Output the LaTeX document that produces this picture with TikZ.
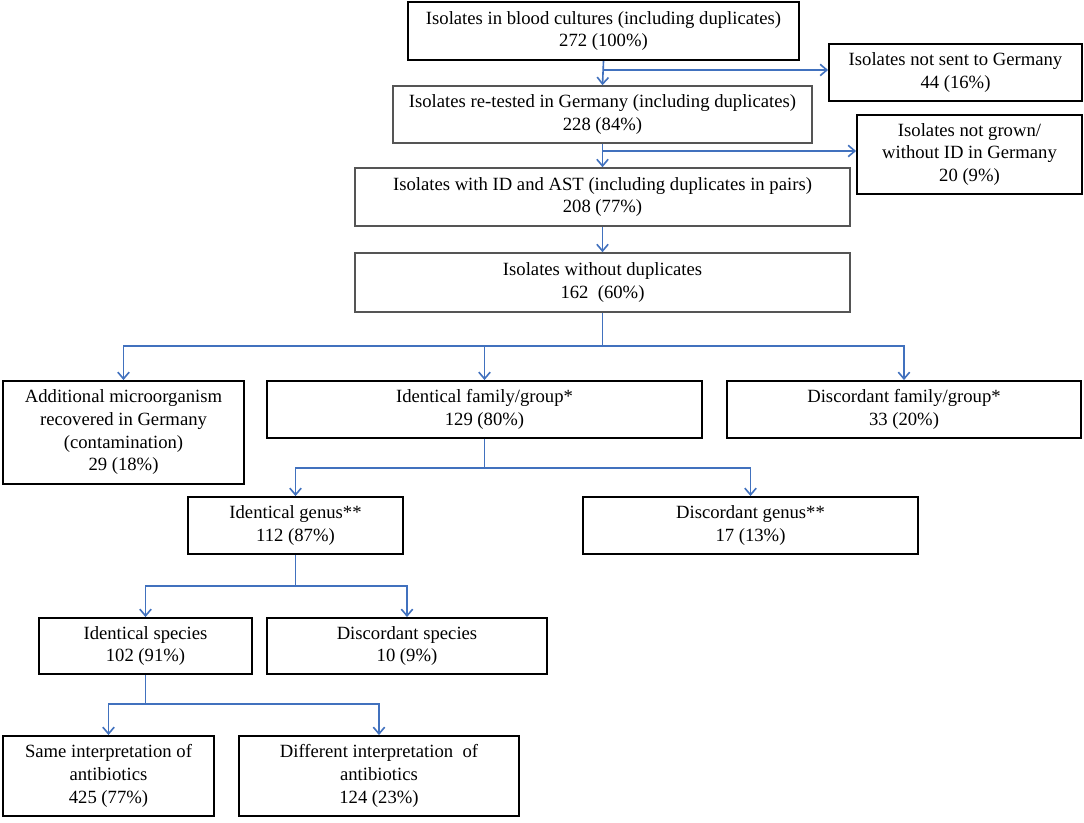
\documentclass[tikz,border=0pt]{standalone}
\usepackage{fontspec}
\setmainfont{Liberation Serif}
\usetikzlibrary{arrows.meta}
\definecolor{flowblue}{RGB}{65,113,190}
\definecolor{boxgray}{RGB}{85,85,85}
\begin{document}
\begin{tikzpicture}[x=0.75pt,y=-0.75pt,
  box/.style={draw=black,line width=1.4pt,fill=white,align=center,inner sep=0pt,
    font=\fontsize{14}{17}\selectfont},
  graybox/.style={box,draw=boxgray,line width=1.2pt},
  topbox/.style={box,line width=1.8pt},
  link/.style={draw=flowblue,line width=1.2pt},
  arr/.style={link,-{Straight Barb[length=5pt,width=8.5pt]}}]
\useasboundingbox (0,0) rectangle (1084,823);
\fill[white] (0,0) rectangle (1084,823);

\node[topbox,minimum width=293.25pt,minimum height=43.5pt] (top) at (603.5,31)
  {Isolates in blood cultures (including duplicates)\\272 (100\%)};
\node[box,minimum width=189.75pt,minimum height=42.75pt] (right1) at (955.5,72.5)
  {Isolates not sent to Germany\\44 (16\%)};
\node[graybox,minimum width=314.25pt,minimum height=42.75pt] (box2) at (602.5,114.5)
  {Isolates re-tested in Germany (including duplicates)\\228 (84\%)};
\node[box,minimum width=168.75pt,minimum height=59.25pt] (right2) at (969.5,154.5)
  {Isolates not grown/\\without ID in Germany\\20 (9\%)};
\node[graybox,minimum width=371.25pt,minimum height=43.5pt] (box3) at (602.5,197)
  {Isolates with ID and AST (including duplicates in pairs)\\208 (77\%)};
\node[graybox,minimum width=371.25pt,minimum height=44.25pt] (box4) at (602.5,282.5)
  {Isolates without duplicates\\162\ \ (60\%)};
\node[box,minimum width=180.75pt,minimum height=77.25pt] (left) at (123.5,432.5)
  {Additional microorganism\\recovered in Germany\\(contamination)\\29 (18\%)};
\node[box,minimum width=326.25pt,minimum height=42.75pt] (mid) at (484.5,409.5)
  {Identical family/group*\\129 (80\%)};
\node[box,minimum width=265.5pt,minimum height=42.75pt] (right) at (904,409.5)
  {Discordant family/group*\\33 (20\%)};
\node[box,minimum width=161.25pt,minimum height=42.75pt] (genus) at (295.5,525.5)
  {Identical genus**\\112 (87\%)};
\node[box,minimum width=251.25pt,minimum height=42.75pt] (dgenus) at (750.5,525.5)
  {Discordant genus**\\17 (13\%)};
\node[box,minimum width=159.75pt,minimum height=42pt] (species) at (145.5,646)
  {Identical species\\102 (91\%)};
\node[box,minimum width=210pt,minimum height=42pt] (dspecies) at (407,646)
  {Discordant species\\10 (9\%)};
\node[box,minimum width=158.25pt,minimum height=60pt] (same) at (108.5,776)
  {Same interpretation of\\antibiotics\\425 (77\%)};
\node[box,minimum width=210pt,minimum height=60pt] (diff) at (379,776)
  {Different interpretation\ \ of\\antibiotics\\124 (23\%)};

% connectors
\coordinate (b1) at (603.5,70);
\draw[arr] (top.south) -- (box2.north);
\draw[arr] (b1) -- (b1 -| right1.west);
\coordinate (b2) at (602.5,151);
\draw[arr] (box2.south) -- (box3.north);
\draw[arr] (b2) -- (b2 -| right2.west);
\draw[arr] (box3.south) -- (box4.north);

\coordinate (j1) at (602.5,346);
\draw[link] (box4.south) -- (j1);
\draw[arr] (j1) -| (left.north);
\draw[arr] (j1) -| (mid.north);
\draw[arr] (j1) -| (right.north);

\coordinate (j2) at (484.5,468);
\draw[link] (mid.south) -- (j2);
\draw[arr] (j2) -| (genus.north);
\draw[arr] (j2) -| (dgenus.north);

\coordinate (j3) at (295.5,586);
\draw[link] (genus.south) -- (j3);
\draw[arr] (j3) -| (species.north);
\draw[arr] (j3) -| (dspecies.north);

\coordinate (j4) at (145.5,704);
\draw[link] (species.south) -- (j4);
\draw[arr] (j4) -| (same.north);
\draw[arr] (j4) -| (diff.north);
\end{tikzpicture}
\end{document}
